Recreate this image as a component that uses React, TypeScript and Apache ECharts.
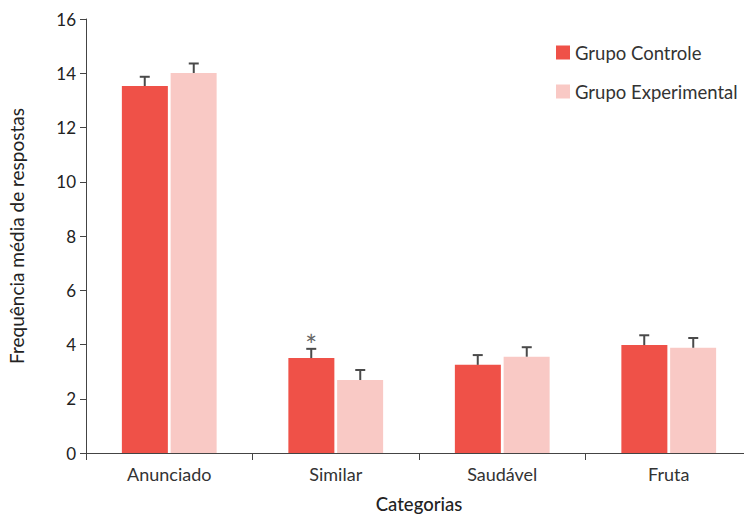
import React, { useEffect, useRef } from "react";
import * as echarts from "echarts";

const categories = ["Anunciado", "Similar", "Saudável", "Fruta"];
const controlMeans = [13.53, 3.5, 3.25, 3.98];
const controlErrors = [0.34, 0.34, 0.36, 0.36];
const experimentalMeans = [14.01, 2.69, 3.55, 3.88];
const experimentalErrors = [0.35, 0.37, 0.35, 0.36];
const controlMarks = ["", "*", "", ""];
const experimentalMarks = ["", "", "", ""];
const yTicks = { min: 0, max: 16, interval: 2 };

const RED = "#EF5148";
const PINK = "#F9C9C5";
const FONT = "Lato, 'Open Sans', sans-serif";

function errorSeries(name: string, means: number[], errs: number[], marks: string[], offset: number) {
  return {
    type: "custom",
    name: name + " erro",
    z: 5,
    silent: true,
    data: means.map((m, i) => [i, m, errs[i]]),
    encode: { x: 0, y: 1 },
    renderItem: (params: any, api: any) => {
      const i = api.value(0);
      const m = api.value(1);
      const e = api.value(2);
      const mark = marks[i];
      const base = api.coord([i, m]);
      const top = api.coord([i, m + e]);
      const x = base[0] + offset;
      const children: any[] = [
        { type: "line", shape: { x1: x, y1: base[1], x2: x, y2: top[1] }, style: { stroke: "#4a4a4a", lineWidth: 2 } },
        { type: "line", shape: { x1: x - 5, y1: top[1], x2: x + 5, y2: top[1] }, style: { stroke: "#4a4a4a", lineWidth: 2 } },
      ];
      if (mark) {
        children.push({
          type: "text",
          x: x,
          y: top[1] - 18,
          style: { text: mark, fill: "#666", font: `28px ${FONT}`, textAlign: "center", textVerticalAlign: "top" },
        });
      }
      return { type: "group", children };
    },
  };
}

export default function App() {
  const ref = useRef<HTMLDivElement>(null);
  useEffect(() => {
    if (!ref.current) return;
    const chart = echarts.init(ref.current, undefined, { renderer: "svg" });
    chart.setOption({
      animation: false,
      backgroundColor: "#fff",
      textStyle: { fontFamily: FONT },
      grid: { left: 86, top: 19, bottom: 64, width: 666, containLabel: false, outerBoundsMode: "none" },
      legend: {
        orient: "vertical",
        left: 551,
        top: 38,
        itemWidth: 14,
        itemHeight: 14,
        itemGap: 20,
        icon: "rect",
        data: ["Grupo Controle", "Grupo Experimental"],
        textStyle: { fontSize: 18.5, color: "#333", fontFamily: FONT },
      },
      xAxis: {
        type: "category",
        data: categories,
        name: "Categorias",
        nameLocation: "middle",
        nameGap: 41,
        nameTextStyle: { fontSize: 18.5, color: "#222", fontFamily: FONT, fontWeight: 500 },
        axisLine: { lineStyle: { color: "#444", width: 1 } },
        axisTick: { show: true, length: 7, lineStyle: { color: "#444" } },
        axisLabel: { fontSize: 18, color: "#333", margin: 12, fontFamily: FONT },
      },
      yAxis: {
        type: "value",
        min: yTicks.min,
        max: yTicks.max,
        interval: yTicks.interval,
        name: "Frequência média de respostas",
        nameLocation: "middle",
        nameGap: 60,
        nameTextStyle: { fontSize: 19, color: "#222", fontFamily: FONT },
        axisLine: { show: true, lineStyle: { color: "#444", width: 1 } },
        axisTick: { show: true, length: 6, lineStyle: { color: "#444" } },
        axisLabel: { fontSize: 17, color: "#222", margin: 10, fontFamily: FONT },
        splitLine: { show: false },
      },
      series: [
        {
          type: "bar",
          name: "Grupo Controle",
          data: controlMeans,
          barWidth: 46,
          barGap: "6%",
          itemStyle: { color: RED },
        },
        {
          type: "bar",
          name: "Grupo Experimental",
          data: experimentalMeans,
          barWidth: 46,
          barGap: "6%",
          itemStyle: { color: PINK },
        },
        errorSeries("Grupo Controle", controlMeans, controlErrors, controlMarks, -24.5),
        errorSeries("Grupo Experimental", experimentalMeans, experimentalErrors, experimentalMarks, 24.5),
      ],
    });
    return () => chart.dispose();
  }, []);
  return <div ref={ref} style={{ width: 744, height: 517, position: "absolute", left: 0, top: 0 }} />;
}
